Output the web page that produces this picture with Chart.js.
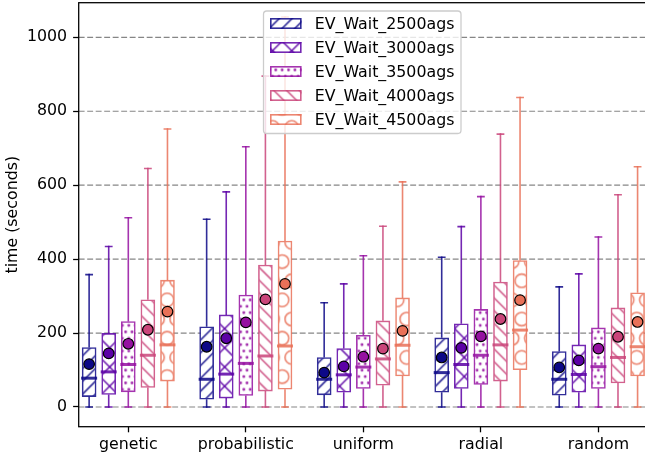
<!DOCTYPE html>
<html>
<head>
<meta charset="utf-8">
<script src="https://cdn.jsdelivr.net/npm/chart.js@4.4.1/dist/chart.umd.min.js"></script>
<style>
  html, body { margin: 0; padding: 0; overflow: hidden; background: #fff; }
  canvas { display: block; }
</style>
</head>
<body>
<canvas id="chart" width="650" height="459"></canvas>
<script>
// Waiting-time distributions per placement strategy and fleet size
const categories = ['genetic', 'probabilistic', 'uniform', 'radial', 'random'];
const seriesLabels = ['EV_Wait_2500ags', 'EV_Wait_3000ags', 'EV_Wait_3500ags', 'EV_Wait_4000ags', 'EV_Wait_4500ags'];
const seriesColors = ['#0d0887', '#5c01a6', '#9511a1', '#ca457a', '#e97158'];
const hatches = ['///', 'xx', '...', '\\\\\\', 'O'];

// one row per series, one column per category (seconds)
const whiskerLow = [
  [0, 0, 0, 0, 0],
  [0, 0, 0, 0, 0],
  [0, 0, 0, 0, 0],
  [0, 0, 0, 0, 0],
  [0, 0, 0, 0, 0]
];
const q1 = [
  [28, 21, 33, 40, 32],
  [34, 24, 40, 50, 40],
  [41, 31, 50, 61, 50],
  [53, 43, 59, 70, 65],
  [70, 48, 84, 101, 84]
];
const median = [
  [78, 75, 75, 93, 75],
  [95, 89, 87, 115, 88],
  [115, 118, 108, 140, 109],
  [140, 138, 130, 168, 134],
  [168, 165, 167, 208, 163]
];
const q3 = [
  [161, 217, 134, 187, 150],
  [199, 249, 158, 225, 168],
  [231, 303, 194, 264, 214],
  [290, 384, 233, 338, 268],
  [343, 449, 295, 396, 309]
];
const whiskerHigh = [
  [358, 508, 282, 405, 325],
  [434, 582, 333, 488, 360],
  [512, 704, 409, 569, 460],
  [645, 895, 489, 738, 574],
  [752, 1055, 609, 837, 650]
];
const means = [
  [116, 163, 93, 134, 107],
  [145, 186, 110, 160, 126],
  [171, 229, 136, 191, 158],
  [209, 291, 158, 238, 190],
  [258, 333, 206, 289, 230]
];
const yTicks = [0, 200, 400, 600, 800, 1000];

const FONT = 'DejaVu Sans';
const FS = 15.8;
const SLOT = 1 / 6;          // spacing between neighbouring boxes, in category units
const TILE = 115;            // hatch tile size in px
const LW = 1.6;
const LINE_ALPHA = 0.85;

function withAlpha(hex, a) {
  const n = parseInt(hex.slice(1), 16);
  return `rgba(${n >> 16},${(n >> 8) & 255},${n & 255},${a})`;
}
const lineColors = seriesColors.map(c => withAlpha(c, LINE_ALPHA));

// Build a hatch tile in the style of matplotlib's hatch patterns
function hatchTile(color, hatch) {
  const cv = document.createElement('canvas');
  cv.width = TILE; cv.height = TILE;
  const g = cv.getContext('2d');
  g.fillStyle = '#fff';
  g.fillRect(0, 0, TILE, TILE);
  g.strokeStyle = color; g.fillStyle = color; g.lineWidth = LW;
  const P = (x, y) => [x * TILE, (1 - y) * TILE];
  const count = ch => hatch.split(ch).length - 1;
  const density = 6;
  const ne = (count('/') + count('x') + count('X')) * density;
  const se = (count('\\') + count('x') + count('X')) * density;
  const lines = (n, northEast) => {
    if (!n) return;
    g.beginPath();
    for (let i = 0; i <= n; i++) {
      const s = -0.5 + i / n;
      if (northEast) { g.moveTo(...P(s, -s)); g.lineTo(...P(1 + s, 1 - s)); }
      else { g.moveTo(...P(s, 1 + s)); g.lineTo(...P(1 + s, s)); }
    }
    g.stroke();
  };
  lines(ne, true);
  lines(se, false);
  const shapes = (rows, size, filled) => {
    if (!rows) return;
    const off = 1 / rows;
    const r = off * size * TILE;
    for (let row = 0; row <= rows; row++) {
      const cols = [];
      if (row % 2 === 0) for (let k = 0; k <= rows; k++) cols.push(k / rows);
      else for (let k = 0; k < rows; k++) cols.push(off / 2 + k * off);
      for (const cx of cols) {
        const [px, py] = P(cx, row * off);
        g.beginPath();
        g.arc(px, py, r, 0, Math.PI * 2);
        if (filled) g.fill();
        g.stroke();
      }
    }
  };
  shapes(count('O') * density, 0.35, false);
  shapes(count('o') * density, 0.2, false);
  shapes(count('.') * density, 0.1, true);
  return cv;
}

const ctx0 = document.getElementById('chart').getContext('2d');
const patterns = lineColors.map((c, s) => {
  const p = ctx0.createPattern(hatchTile(c, hatches[s]), 'repeat');
  p.setTransform(new DOMMatrix().translate(4.2, 12.4));
  return p;
});

const datasets = [];
seriesLabels.forEach((label, s) => {
  const dx = (s - 2) * SLOT;
  datasets.push({
    type: 'bar',
    label,
    seriesIndex: s,
    order: 1,
    data: categories.map((_, i) => ({ x: i + dx, y: [q1[s][i], q3[s][i]] })),
    backgroundColor: patterns[s],
    borderColor: lineColors[s],
    borderWidth: LW,
    borderSkipped: false,
    grouped: false,
    barThickness: 14
  });
});
seriesLabels.forEach((label, s) => {
  const dx = (s - 2) * SLOT;
  datasets.push({
    type: 'scatter',
    label: label + ' mean',
    seriesIndex: s,
    order: 0,
    data: categories.map((_, i) => ({ x: i + dx, y: means[s][i] })),
    pointRadius: 5.3,
    pointHoverRadius: 5.3,
    pointBackgroundColor: seriesColors[s],
    pointBorderColor: '#000',
    pointBorderWidth: 1.2,
    showLine: false
  });
});

// dashed horizontal grid, below the boxes
const gridPlugin = {
  id: 'gridPlugin',
  beforeDatasetsDraw(chart) {
    const { ctx, chartArea: a, scales: { y } } = chart;
    ctx.save();
    ctx.strokeStyle = 'rgba(128,128,128,0.95)';
    ctx.lineWidth = 1.2;
    ctx.setLineDash([5.9, 2.6]);
    yTicks.forEach(v => {
      const py = y.getPixelForValue(v);
      ctx.beginPath(); ctx.moveTo(a.left, py); ctx.lineTo(a.right, py); ctx.stroke();
    });
    ctx.restore();
  }
};

// whiskers, caps and median line for each box
const boxPlugin = {
  id: 'boxPlugin',
  afterDatasetDraw(chart, args) {
    const ds = chart.data.datasets[args.index];
    if (ds.type !== 'bar') return;
    const s = ds.seriesIndex;
    const y = chart.scales.y;
    const ctx = chart.ctx;
    ctx.save();
    ctx.strokeStyle = lineColors[s];
    args.meta.data.forEach((bar, i) => {
      const cx = bar.x, w = bar.width;
      const pLo = y.getPixelForValue(whiskerLow[s][i]);
      const pHi = y.getPixelForValue(whiskerHigh[s][i]);
      const pQ1 = y.getPixelForValue(q1[s][i]);
      const pQ3 = y.getPixelForValue(q3[s][i]);
      const pMed = y.getPixelForValue(median[s][i]);
      ctx.lineWidth = LW;
      ctx.lineCap = 'butt';
      ctx.beginPath();
      ctx.moveTo(cx, pQ1); ctx.lineTo(cx, pLo + 0.8);
      ctx.moveTo(cx, pQ3); ctx.lineTo(cx, pHi - 0.8);
      ctx.stroke();
      ctx.beginPath();
      ctx.moveTo(cx - w / 4 - 0.4, pLo); ctx.lineTo(cx + w / 4 + 0.4, pLo);
      ctx.moveTo(cx - w / 4 - 0.4, pHi); ctx.lineTo(cx + w / 4 + 0.4, pHi);
      ctx.stroke();
      ctx.lineWidth = 3;
      ctx.beginPath();
      ctx.moveTo(cx - w / 2 - 1, pMed); ctx.lineTo(cx + w / 2 + 1, pMed);
      ctx.stroke();
    });
    ctx.restore();
  }
};

// axes frame and legend
const framePlugin = {
  id: 'framePlugin',
  afterDraw(chart) {
    const { ctx, chartArea: a } = chart;
    ctx.save();
    ctx.strokeStyle = '#000';
    ctx.lineWidth = 1.28;
    ctx.strokeRect(a.left, a.top, a.right - a.left, a.bottom - a.top);

    // legend box
    const lx = 263.5, ly = 11, lw = 197.5, lh = 122.5, rad = 3.2;
    ctx.beginPath();
    ctx.moveTo(lx + rad, ly);
    ctx.arcTo(lx + lw, ly, lx + lw, ly + lh, rad);
    ctx.arcTo(lx + lw, ly + lh, lx, ly + lh, rad);
    ctx.arcTo(lx, ly + lh, lx, ly, rad);
    ctx.arcTo(lx, ly, lx + lw, ly, rad);
    ctx.closePath();
    ctx.fillStyle = 'rgba(255,255,255,0.8)';
    ctx.fill();
    ctx.strokeStyle = '#cccccc';
    ctx.lineWidth = 1.28;
    ctx.stroke();

    ctx.font = FS + 'px "' + FONT + '"';
    ctx.textBaseline = 'middle';
    ctx.textAlign = 'left';
    seriesLabels.forEach((label, s) => {
      const cy = 23.5 + s * 24;
      const hx = 270, hw = 31.6, hh = 11;
      ctx.fillStyle = patterns[s];
      ctx.fillRect(hx, cy - hh / 2, hw, hh);
      ctx.strokeStyle = lineColors[s];
      ctx.lineWidth = LW;
      ctx.strokeRect(hx + LW / 2, cy - hh / 2 + LW / 2, hw - LW, hh - LW);
      ctx.fillStyle = '#000';
      ctx.fillText(label, 314.8, cy + 1);
    });
    ctx.restore();
  }
};

new Chart(ctx0, {
  type: 'bar',
  data: { datasets },
  options: {
    responsive: false,
    animation: false,
    events: [],
    layout: { autoPadding: false, padding: { top: 2.7, right: 2, left: 0, bottom: 0 } },
    plugins: { legend: { display: false }, tooltip: { enabled: false } },
    scales: {
      x: {
        type: 'linear',
        min: -0.422,
        max: 4.422,
        offset: false,
        afterFit: s => { s.height = 32.3; s.paddingLeft = 0; s.paddingRight = 0; },
        afterBuildTicks: s => { s.ticks = categories.map((_, i) => ({ value: i })); },
        grid: { display: true, drawOnChartArea: false, offset: false, tickLength: 5.6, tickWidth: 1.28, tickColor: '#000' },
        border: { display: false },
        ticks: {
          autoSkip: false, maxRotation: 0, includeBounds: false, padding: 3,
          color: '#000', font: { family: FONT, size: FS },
          callback: v => categories[v] ?? ''
        }
      },
      y: {
        type: 'linear',
        min: -53.3,
        max: 1093.6,
        afterFit: s => { s.width = 78.7; s.paddingTop = 0; s.paddingBottom = 0; },
        afterBuildTicks: s => { s.ticks = yTicks.map(v => ({ value: v })); },
        grid: { display: true, drawOnChartArea: false, tickLength: 5.6, tickWidth: 1.28, tickColor: '#000' },
        border: { display: false },
        ticks: {
          includeBounds: false, padding: 6,
          color: '#000', font: { family: FONT, size: FS },
          callback: v => String(v)
        },
        title: {
          display: true, text: 'time (seconds)', color: '#000',
          font: { family: FONT, size: FS }, padding: { top: 3.3, bottom: 0 }
        }
      }
    }
  },
  plugins: [gridPlugin, boxPlugin, framePlugin]
});
</script>
</body>
</html>
